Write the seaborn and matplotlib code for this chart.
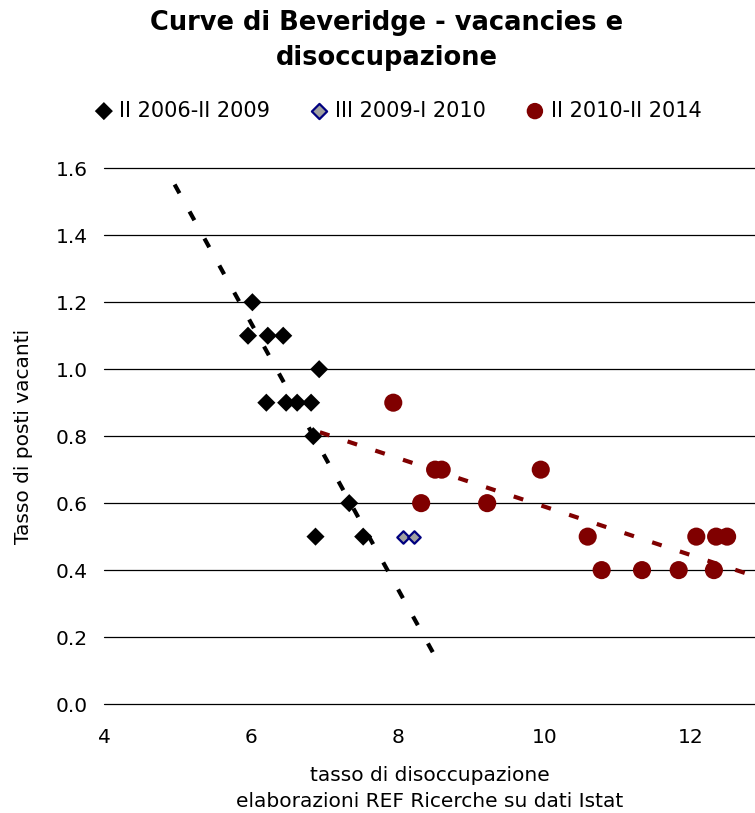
import numpy as np
import pandas as pd
import matplotlib.pyplot as plt
import seaborn as sns

sns.set_style('white')
plt.rcParams['font.family'] = ['DejaVu Sans']
plt.rcParams['text.color'] = 'black'
plt.rcParams['axes.labelcolor'] = 'black'
plt.rcParams['xtick.color'] = 'black'
plt.rcParams['ytick.color'] = 'black'

# data
x_0609 = [6.02, 5.96, 6.23, 6.44, 6.93, 6.21, 6.48, 6.63, 6.82, 6.85, 7.34, 6.88, 7.53]
y_0609 = [1.2, 1.1, 1.1, 1.1, 1.0, 0.9, 0.9, 0.9, 0.9, 0.8, 0.6, 0.5, 0.5]

x_0910 = [8.07, 8.22]
y_0910 = [0.5, 0.5]

x_1014 = [7.94, 8.32, 8.51, 8.60, 9.22, 9.95, 10.59, 10.78, 11.33, 11.83, 12.07, 12.31, 12.34, 12.49]
y_1014 = [0.9, 0.6, 0.7, 0.7, 0.6, 0.7, 0.5, 0.4, 0.4, 0.4, 0.5, 0.4, 0.5, 0.5]

labels = ['II 2006-II 2009', 'III 2009-I 2010', 'II 2010-II 2014']
y_ticks = [0.0, 0.2, 0.4, 0.6, 0.8, 1.0, 1.2, 1.4, 1.6]
x_ticks = [4, 6, 8, 10, 12]

fig = plt.figure(figsize=(7.55, 8.13), dpi=100)
ax = fig.add_axes([0.138, 0.134, 0.862, 0.659])

# linear trend lines (extended like in the spreadsheet)
def trend(xs, ys, back, fwd):
    k, q = np.polyfit(xs, ys, 1)
    xx = np.array([min(xs) - back, max(xs) + fwd])
    return pd.DataFrame({'x': xx, 'y': k * xx + q})

t1 = trend(x_0609, y_0609, 1.0, 0.95)
t2 = trend(x_1014, y_1014, 1.0, 0.6)
sns.lineplot(data=t1, x='x', y='y', ax=ax, color='black', lw=3, zorder=2)
ax.lines[-1].set_dashes([2.4, 5])
sns.lineplot(data=t2, x='x', y='y', ax=ax, color='#800000', lw=3, zorder=2)
ax.lines[-1].set_dashes([2.4, 4.6])

sns.scatterplot(x=x_0609, y=y_0609, ax=ax, marker='D', s=85, color='black',
                edgecolor='none', zorder=3, label=labels[0])
sns.scatterplot(x=x_0910, y=y_0910, ax=ax, marker='D', s=40, color='#a0a0a0',
                edgecolor='#000080', linewidth=1.6, zorder=3, label=labels[1])
sns.scatterplot(x=x_1014, y=y_1014, ax=ax, marker='o', s=170, color='#800000',
                edgecolor='none', zorder=3, label=labels[2])

ax.set_xlim(4, 12.87)
ax.set_ylim(0, 1.6)
ax.set_yticks(y_ticks)
ax.set_yticklabels([f'{v:.1f}' for v in y_ticks])
ax.set_xticks(x_ticks)
ax.yaxis.grid(True, color='black', lw=0.9)
for g in ax.get_ygridlines():
    g.set_clip_on(False)
ax.set_axisbelow(True)
for s in ax.spines.values():
    s.set_visible(False)
ax.tick_params(axis='both', length=0, labelsize=14.5)
ax.tick_params(axis='x', pad=17)
ax.tick_params(axis='y', pad=12)

ax.set_xlabel('tasso di disoccupazione\nelaborazioni REF Ricerche su dati Istat',
              fontsize=14.5, labelpad=14, linespacing=1.45)
ax.set_ylabel('Tasso di posti vacanti', fontsize=14.5, labelpad=16)

fig.text(0.512, 0.988, 'Curve di Beveridge - vacancies e\ndisoccupazione',
         ha='center', va='top', fontsize=18.5, fontweight='bold', linespacing=1.45)

handles, labs = ax.get_legend_handles_labels()
ax.get_legend().remove()
leg = fig.legend(handles, labs, loc='center', bbox_to_anchor=(0.527, 0.864), ncol=3,
                 frameon=False, fontsize=15, handlelength=0.9, handletextpad=0.3,
                 columnspacing=1.9)
leg.legend_handles[1].set_sizes([60])
leg.legend_handles[2].set_sizes([140])

fig.savefig('out.png', dpi=100)
